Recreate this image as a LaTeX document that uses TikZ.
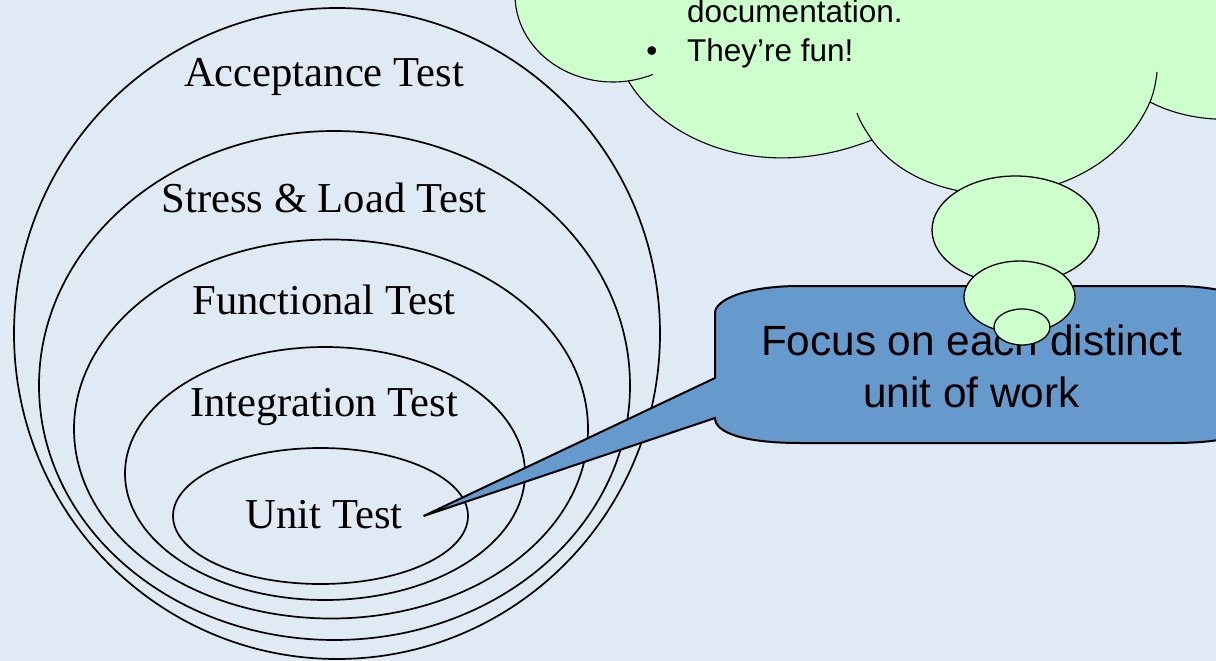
\documentclass[tikz,border=0pt]{standalone}
\usepackage{fontspec}
\setmainfont{Liberation Serif}
\setsansfont{Liberation Sans}
\usepackage{tikz}
\usetikzlibrary{positioning, calc}

\definecolor{slidebg}{RGB}{224,234,245}
\definecolor{calloutblue}{RGB}{102,153,204}
\definecolor{cloudgreen}{RGB}{204,255,204}

\tikzset{
    ring/.style={draw=black, line width=1.7pt},
    lbl/.style={font=\fontsize{42.6}{50}\selectfont, inner sep=0pt, anchor=base},
    callout/.style={fill=calloutblue, draw=black, line width=2pt},
    focus/.style={font=\sffamily\fontsize{42.3}{50}\selectfont, inner sep=0pt, anchor=base},
    cloud/.style={fill=cloudgreen, draw=black, line width=1.1pt},
    cloudline/.style={draw=black, line width=1.1pt},
    puff/.style={fill=cloudgreen, draw=black, line width=1.3pt},
    bullettxt/.style={font=\sffamily\fontsize{31.5}{38}\selectfont, inner sep=0pt}
}

\begin{document}
\begin{tikzpicture}[x=1pt, y=-1pt]
    \useasboundingbox (0,0) rectangle (1216,661);
    \clip (0,0) rectangle (1216,661);
    \fill[slidebg] (0,0) rectangle (1216,661);

    % Test levels - nested ellipses
    \foreach \cx/\cy/\rx/\ry in {
        337/333.5/323/325.5,
        334.5/385.5/295.5/254.5,
        331/429/257/189.5,
        325/473.5/200/126.5,
        320.5/516/147.5/68
    } {
        \draw[ring] (\cx,\cy) ellipse ({\rx pt} and {\ry pt});
    }

    % Level names
    \foreach \y/\name/\txt in {
        86.5/acc/Acceptance Test,
        212/stress/Stress \& Load Test,
        314/func/Functional Test,
        416.5/integ/Integration Test,
        528/unit/Unit Test
    } {
        \node[lbl] (\name) at (324,\y) {\txt};
    }

    % Callout pointing at the unit level
    \coordinate (tip) at ([xshift=21pt, yshift=12pt]unit.base east);
    \path[callout] (715,313) -- (715,378) -- (tip) -- (715,418)
        .. controls (715,433) and (745,443) .. (800,443) -- (1173,443)
        .. controls (1228,443) and (1258,433) .. (1258,418) -- (1258,313)
        .. controls (1258,300) and (1228,286) .. (1173,286) -- (800,286)
        .. controls (745,286) and (715,300) .. (715,313) -- cycle;
    \node[focus] (focusA) at (971.5,355) {Focus on each distinct};
    \node[focus] (focusB) at (971.5,407) {unit of work};

    % Thought cloud (top cut off)
    \path[cloud] (512,-40) -- (515,-5)
        arc[start angle=180, end angle=279, x radius=98pt, y radius=87pt]
        .. controls (660,135) and (755,186) .. (872,140)
        .. controls (930,220) and (1100,215) .. (1150,102)
        .. controls (1175,115) and (1205,121) .. (1240,119)
        -- (1300,-40) -- cycle;
    \draw[cloudline] (628.3,80.9) arc[start angle=279, end angle=294, x radius=98pt, y radius=87pt];
    \draw[cloudline] (872,140) .. controls (866,131) and (860,122) .. (857,113);
    \draw[cloudline] (1150,102) .. controls (1154,92) and (1156,82) .. (1157,72);

    \node[bullettxt, anchor=base west] (docs) at (687,23) {documentation.};
    \node[bullettxt, anchor=base west] (fun) at (687,62) {They’re fun!};
    \node[bullettxt, anchor=base] (dot) at (652,62) {•};

    % Thought bubbles
    \foreach \cx/\cy/\rx/\ry in {
        1015.5/230/83.5/54,
        1019.5/297/55.5/36,
        1022/327/28/18
    } {
        \draw[puff] (\cx,\cy) ellipse ({\rx pt} and {\ry pt});
    }
\end{tikzpicture}
\end{document}
